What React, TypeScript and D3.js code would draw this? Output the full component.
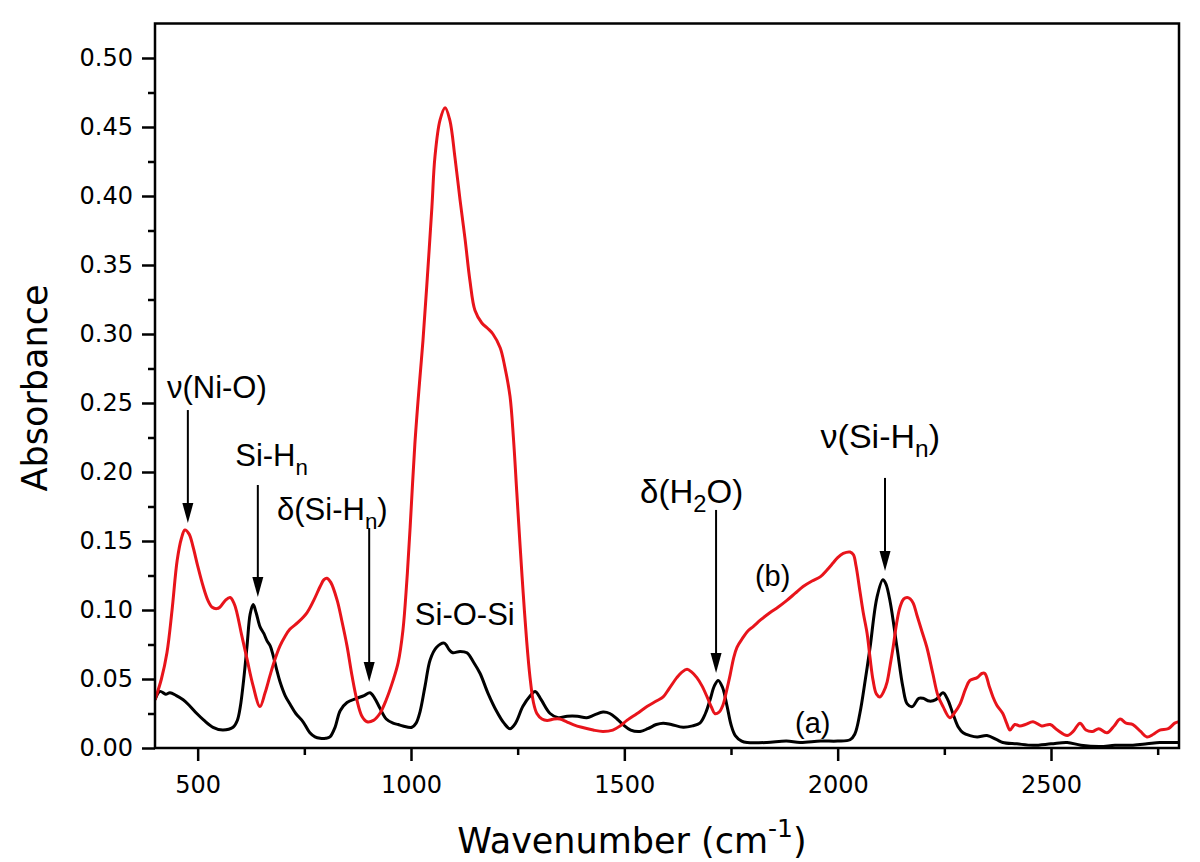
import React, { useEffect, useRef } from "react";
import * as d3 from "d3";

// curve (a): black, [wavenumber, absorbance]
const sampleA: [number, number][] = [
  [400, 0.035], [412, 0.041], [425, 0.039], [435, 0.04], [450, 0.038], [466, 0.035], [480, 0.031],
  [498, 0.025], [515, 0.02], [536, 0.015], [559, 0.013], [583, 0.015], [593, 0.02], [600, 0.03],
  [608, 0.05], [616, 0.075], [623, 0.097], [630, 0.104], [637, 0.098], [646, 0.088], [655, 0.083],
  [662, 0.078], [670, 0.074], [677, 0.067], [685, 0.057], [693, 0.048], [705, 0.038], [716, 0.032],
  [730, 0.025], [747, 0.019], [763, 0.011], [775, 0.008], [787, 0.007], [800, 0.007], [810, 0.008],
  [822, 0.015], [834, 0.027], [850, 0.033], [873, 0.036], [890, 0.038], [904, 0.04], [915, 0.036],
  [927, 0.029], [942, 0.021], [958, 0.018], [970, 0.017], [981, 0.016], [1002, 0.015], [1012, 0.018],
  [1021, 0.026], [1033, 0.045], [1045, 0.064], [1060, 0.073], [1078, 0.076], [1090, 0.071],
  [1098, 0.069], [1115, 0.07], [1131, 0.069], [1147, 0.062], [1162, 0.054], [1180, 0.04],
  [1200, 0.027], [1218, 0.018], [1232, 0.014], [1245, 0.018], [1262, 0.03], [1280, 0.038],
  [1291, 0.041], [1305, 0.035], [1326, 0.025], [1345, 0.022], [1366, 0.023], [1390, 0.023],
  [1412, 0.022], [1430, 0.024], [1450, 0.026], [1466, 0.025], [1483, 0.021], [1497, 0.017],
  [1515, 0.013], [1537, 0.012], [1555, 0.014], [1575, 0.017], [1591, 0.018], [1610, 0.017],
  [1638, 0.015], [1660, 0.016], [1677, 0.018], [1690, 0.025], [1701, 0.035], [1711, 0.045],
  [1720, 0.049], [1730, 0.044], [1741, 0.03], [1750, 0.017], [1760, 0.009], [1775, 0.005],
  [1788, 0.004], [1834, 0.004], [1880, 0.005], [1912, 0.004], [1960, 0.005], [2000, 0.005],
  [2029, 0.006], [2040, 0.01], [2052, 0.025], [2065, 0.05], [2076, 0.073], [2092, 0.109],
  [2106, 0.122], [2113, 0.119], [2123, 0.106], [2139, 0.073], [2153, 0.044], [2163, 0.032],
  [2175, 0.03], [2190, 0.036], [2200, 0.036], [2215, 0.034], [2230, 0.035], [2247, 0.04],
  [2258, 0.035], [2270, 0.025], [2283, 0.015], [2294, 0.011], [2310, 0.009], [2327, 0.008],
  [2350, 0.009], [2373, 0.006], [2387, 0.004], [2420, 0.003], [2458, 0.002], [2500, 0.003],
  [2538, 0.004], [2570, 0.002], [2615, 0.001], [2650, 0.002], [2692, 0.002], [2725, 0.003],
  [2755, 0.004], [2780, 0.004], [2800, 0.004],
];

// curve (b): red
const sampleB: [number, number][] = [
  [400, 0.035], [415, 0.05], [428, 0.069], [440, 0.1], [452, 0.136], [462, 0.152], [470, 0.158],
  [480, 0.155], [489, 0.146], [500, 0.132], [513, 0.117], [524, 0.107], [534, 0.102], [545, 0.101],
  [552, 0.102], [565, 0.107], [576, 0.109], [585, 0.105], [592, 0.098], [603, 0.082], [616, 0.064],
  [630, 0.045], [646, 0.03], [658, 0.04], [670, 0.053], [682, 0.065], [693, 0.074], [705, 0.081],
  [716, 0.086], [735, 0.091], [756, 0.098], [772, 0.107], [787, 0.117], [796, 0.122], [803, 0.123],
  [812, 0.12], [827, 0.107], [838, 0.092], [850, 0.074], [862, 0.052], [873, 0.035], [885, 0.023],
  [897, 0.019], [912, 0.02], [927, 0.025], [942, 0.035], [958, 0.049], [970, 0.062], [981, 0.085],
  [990, 0.12], [998, 0.16], [1009, 0.22], [1020, 0.265], [1028, 0.295], [1037, 0.335], [1049, 0.392],
  [1056, 0.428], [1068, 0.455], [1080, 0.464], [1091, 0.455], [1103, 0.428], [1115, 0.397],
  [1127, 0.368], [1138, 0.339], [1150, 0.317], [1166, 0.308], [1180, 0.304], [1192, 0.3],
  [1209, 0.29], [1220, 0.276], [1232, 0.255], [1240, 0.225], [1248, 0.185], [1256, 0.145],
  [1263, 0.112], [1271, 0.078], [1279, 0.051], [1287, 0.033], [1295, 0.025], [1307, 0.021],
  [1319, 0.02], [1335, 0.021], [1349, 0.021], [1365, 0.019], [1380, 0.017], [1400, 0.015],
  [1427, 0.013], [1450, 0.012], [1473, 0.013], [1490, 0.016], [1506, 0.02], [1530, 0.025],
  [1553, 0.03], [1575, 0.034], [1591, 0.037], [1605, 0.043], [1623, 0.051], [1635, 0.055],
  [1647, 0.057], [1658, 0.055], [1670, 0.051], [1682, 0.045], [1694, 0.037], [1705, 0.029],
  [1712, 0.025], [1722, 0.026], [1731, 0.031], [1740, 0.042], [1748, 0.053], [1756, 0.065],
  [1764, 0.073], [1778, 0.08], [1790, 0.085], [1802, 0.088], [1820, 0.093], [1841, 0.098],
  [1860, 0.102], [1881, 0.107], [1900, 0.112], [1919, 0.117], [1940, 0.121], [1959, 0.124],
  [1975, 0.129], [1989, 0.134], [2000, 0.138], [2013, 0.141], [2029, 0.142], [2037, 0.14],
  [2043, 0.132], [2052, 0.114], [2060, 0.098], [2069, 0.083], [2076, 0.065], [2083, 0.049],
  [2091, 0.039], [2099, 0.037], [2108, 0.041], [2116, 0.048], [2123, 0.06], [2130, 0.073],
  [2138, 0.09], [2146, 0.102], [2155, 0.108], [2163, 0.109], [2170, 0.108], [2177, 0.105],
  [2186, 0.096], [2197, 0.085], [2209, 0.073], [2223, 0.054], [2235, 0.038], [2247, 0.03],
  [2263, 0.022], [2275, 0.026], [2287, 0.032], [2300, 0.043], [2310, 0.049], [2327, 0.051],
  [2338, 0.054], [2345, 0.054], [2355, 0.045], [2364, 0.037], [2373, 0.031], [2387, 0.025],
  [2396, 0.018], [2404, 0.013], [2415, 0.017], [2427, 0.016], [2440, 0.017], [2458, 0.019],
  [2478, 0.016], [2498, 0.017], [2515, 0.013], [2538, 0.009], [2552, 0.012], [2568, 0.018],
  [2582, 0.013], [2598, 0.012], [2612, 0.014], [2631, 0.011], [2648, 0.016], [2662, 0.021],
  [2676, 0.018], [2692, 0.017], [2710, 0.012], [2725, 0.008], [2740, 0.01], [2755, 0.013],
  [2775, 0.014], [2790, 0.018], [2800, 0.019],
];

const xMajorTicks = [500, 1000, 1500, 2000, 2500];
const xMinorTicks = [750, 1250, 1750, 2250, 2750];
const yMajorTicks = [0, 0.05, 0.1, 0.15, 0.2, 0.25, 0.3, 0.35, 0.4, 0.45, 0.5];
const yMinorTicks = [0.025, 0.075, 0.125, 0.175, 0.225, 0.275, 0.325, 0.375, 0.425, 0.475];

// band labels: text parts (sub = subscript), start wavenumber, baseline absorbance
const bandLabels = [
  { parts: [{ t: "ν(Ni-O)" }], wn: 428, abs: 0.2536, size: 31 },
  { parts: [{ t: "Si-H" }, { t: "n", sub: true }], wn: 588, abs: 0.2043, size: 31 },
  { parts: [{ t: "δ(Si-H" }, { t: "n", sub: true }, { t: ")" }], wn: 686, abs: 0.1652, size: 31 },
  { parts: [{ t: "Si-O-Si" }], wn: 1009, abs: 0.0891, size: 31 },
  { parts: [{ t: "δ(H" }, { t: "2", sub: true }, { t: "O)" }], wn: 1537, abs: 0.1775, size: 33 },
  { parts: [{ t: "ν(Si-H" }, { t: "n", sub: true }, { t: ")" }], wn: 1960, abs: 0.2174, size: 34 },
  { parts: [{ t: "(b)" }], wn: 1806, abs: 0.1174, size: 29 },
  { parts: [{ t: "(a)" }], wn: 1900, abs: 0.0109, size: 29 },
];

// arrows: wavenumber, tail absorbance, tip absorbance
const bandArrows = [
  { wn: 477, from: 0.2449, to: 0.163 },
  { wn: 641, from: 0.1906, to: 0.1094 },
  { wn: 902, from: 0.1594, to: 0.0478 },
  { wn: 1715, from: 0.1725, to: 0.0543 },
  { wn: 2111, from: 0.1957, to: 0.1283 },
];

const W = 1200;
const H = 862;
const plot = { left: 155, right: 1179, top: 23.5, bottom: 748 };

export default function App() {
  const ref = useRef<SVGSVGElement>(null);

  useEffect(() => {
    const svg = d3.select(ref.current);
    svg.selectAll("*").remove();

    const x = d3.scaleLinear().domain([400, 2800]).range([plot.left, plot.right]);
    const y = d3.scaleLinear().domain([0, 0.525]).range([plot.bottom, plot.top]);

    svg
      .append("defs")
      .append("clipPath")
      .attr("id", "plotclip")
      .append("rect")
      .attr("x", plot.left)
      .attr("y", plot.top)
      .attr("width", plot.right - plot.left)
      .attr("height", plot.bottom - plot.top);

    const line = d3
      .line<[number, number]>()
      .x((d) => x(d[0]))
      .y((d) => y(d[1]))
      .curve(d3.curveCatmullRom.alpha(0.5));

    const curves = svg.append("g").attr("clip-path", "url(#plotclip)");
    curves
      .append("path")
      .datum(sampleA)
      .attr("d", line)
      .attr("fill", "none")
      .attr("stroke", "#000")
      .attr("stroke-width", 3)
      .attr("stroke-linejoin", "round");
    curves
      .append("path")
      .datum(sampleB)
      .attr("d", line)
      .attr("fill", "none")
      .attr("stroke", "#e8141b")
      .attr("stroke-width", 3)
      .attr("stroke-linejoin", "round");

    // axes
    const tickFont = "'DejaVu Sans', Verdana, sans-serif";
    const xMajor = svg
      .append("g")
      .attr("transform", `translate(0,${plot.bottom})`)
      .call(d3.axisBottom(x).tickValues(xMajorTicks).tickSize(13).tickPadding(15).tickFormat(d3.format("d")));
    const xMinor = svg
      .append("g")
      .attr("transform", `translate(0,${plot.bottom})`)
      .call(d3.axisBottom(x).tickValues(xMinorTicks).tickSize(7).tickFormat(() => ""));
    const yMajor = svg
      .append("g")
      .attr("transform", `translate(${plot.left},0)`)
      .call(d3.axisLeft(y).tickValues(yMajorTicks).tickSize(13).tickPadding(9).tickFormat(d3.format(".2f")));
    const yMinor = svg
      .append("g")
      .attr("transform", `translate(${plot.left},0)`)
      .call(d3.axisLeft(y).tickValues(yMinorTicks).tickSize(7).tickFormat(() => ""));

    [xMajor, xMinor, yMajor, yMinor].forEach((g) => {
      g.select(".domain").remove();
      g.selectAll("line").attr("stroke", "#000").attr("stroke-width", 2.5);
      g.selectAll("text").attr("font-family", tickFont).attr("font-size", 24).attr("fill", "#000");
    });

    svg
      .append("rect")
      .attr("x", plot.left)
      .attr("y", plot.top)
      .attr("width", plot.right - plot.left)
      .attr("height", plot.bottom - plot.top)
      .attr("fill", "none")
      .attr("stroke", "#000")
      .attr("stroke-width", 2.5);

    // axis titles
    svg
      .append("text")
      .attr("transform", `translate(47,388) rotate(-90)`)
      .attr("text-anchor", "middle")
      .attr("font-family", tickFont)
      .attr("font-size", 35)
      .text("Absorbance");

    const xt = svg
      .append("text")
      .attr("x", 632)
      .attr("y", 853)
      .attr("text-anchor", "middle")
      .attr("font-family", tickFont)
      .attr("font-size", 35);
    xt.append("tspan").text("Wavenumber (cm");
    xt.append("tspan").attr("font-size", 25).attr("dy", -16).text("-1");
    xt.append("tspan").attr("dy", 16).text(")");

    // band arrows
    const arrows = svg.append("g");
    bandArrows.forEach((a) => {
      const ax = x(a.wn);
      const y0 = y(a.from);
      const y1 = y(a.to);
      arrows
        .append("line")
        .attr("x1", ax)
        .attr("x2", ax)
        .attr("y1", y0)
        .attr("y2", y1 - 12)
        .attr("stroke", "#000")
        .attr("stroke-width", 2);
      arrows
        .append("path")
        .attr("d", `M${ax - 5.5},${y1 - 20} L${ax + 5.5},${y1 - 20} L${ax},${y1} Z`)
        .attr("fill", "#000");
    });

    // band labels
    const labels = svg.append("g").attr("font-family", "'Liberation Sans', Arial, sans-serif");
    bandLabels.forEach((l) => {
      const t = labels
        .append("text")
        .attr("x", x(l.wn))
        .attr("y", y(l.abs))
        .attr("font-size", l.size)
        .attr("fill", "#000");
      let shifted = false;
      l.parts.forEach((p: { t: string; sub?: boolean }) => {
        const ts = t.append("tspan").text(p.t);
        if (p.sub) {
          ts.attr("font-size", l.size * 0.72).attr("dy", 9);
          shifted = true;
        } else if (shifted) {
          ts.attr("dy", -9);
          shifted = false;
        }
      });
    });
  }, []);

  return (
    <div style={{ position: "absolute", left: 0, top: 0 }}>
      <svg ref={ref} width={W} height={H} style={{ display: "block", background: "#fff" }} />
    </div>
  );
}
